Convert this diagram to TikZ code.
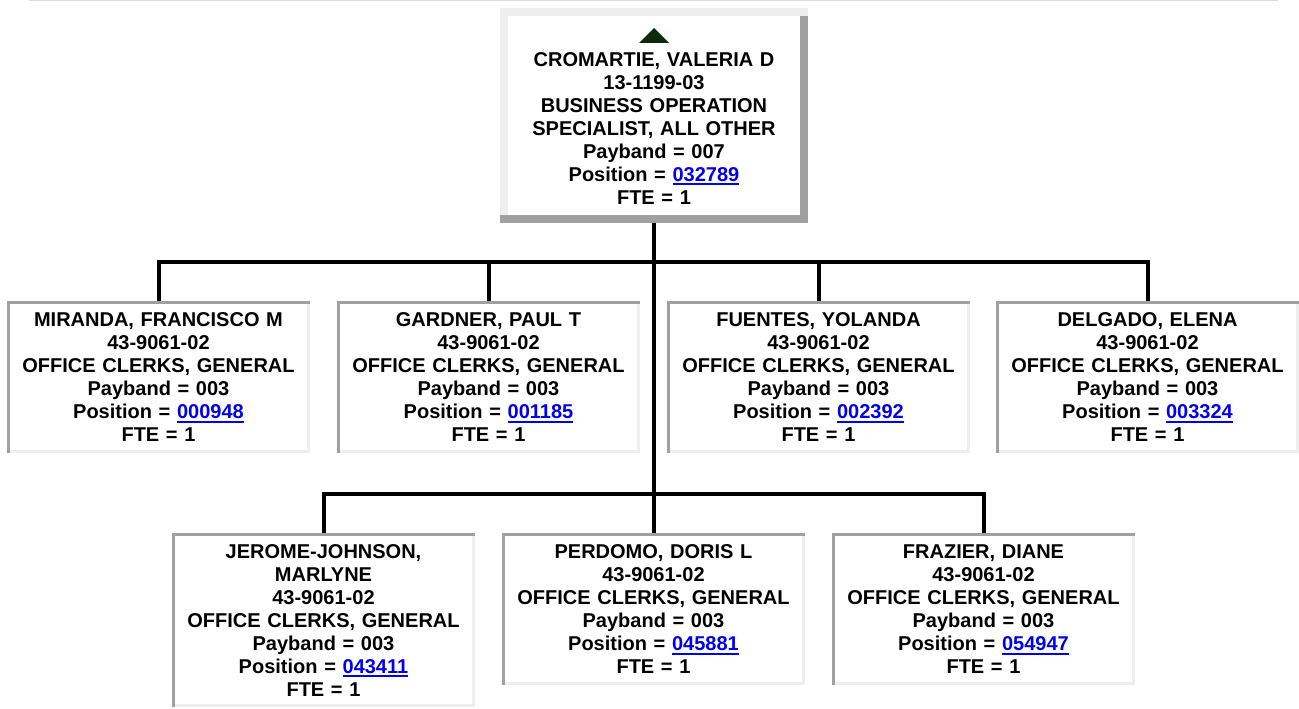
\documentclass[tikz,border=0pt]{standalone}
\usepackage{fontspec}
\setmainfont{Liberation Sans}
\definecolor{orgInk}{HTML}{000000}
\definecolor{orgLink}{HTML}{0000EE}
\definecolor{orgShade}{HTML}{A0A0A0}
\definecolor{orgLight}{HTML}{EEEEEE}
\definecolor{orgRule}{HTML}{DDDDDD}
\definecolor{orgLeaf}{HTML}{0B2B0B}
\newcommand{\poslink}[1]{{\color{orgLink}\setbox0\hbox{#1}\rlap{\rule[-4pt]{\wd0}{2pt}}\box0}}
\tikzset{
  every picture/.style={font=\bfseries\fontsize{20}{23}\selectfont, text=orgInk},
  org card/.style={fill=white, inner sep=0pt, text width=303pt, align=center,
    anchor=north, minimum height=152pt,
    path picture={
      \fill[orgLight] (path picture bounding box.south west) rectangle (path picture bounding box.north east);
      \fill[orgShade] (path picture bounding box.south west) rectangle ([xshift=3pt]path picture bounding box.north west);
      \fill[orgShade] ([yshift=-3pt]path picture bounding box.north west) rectangle (path picture bounding box.north east);
      \fill[white] ([shift={(3pt,3pt)}]path picture bounding box.south west) rectangle ([shift={(-3pt,-3pt)}]path picture bounding box.north east);
    }},
  org top/.style={fill=white, inner sep=0pt, text width=308pt, align=center,
    anchor=north, minimum height=215pt,
    path picture={
      \fill[orgShade] (path picture bounding box.south west) rectangle (path picture bounding box.north east);
      \fill[orgLight] ([yshift=8pt]path picture bounding box.south west) rectangle ([xshift=8pt]path picture bounding box.north west);
      \fill[orgLight] ([yshift=-8pt]path picture bounding box.north west) rectangle (path picture bounding box.north east);
      \fill[white] ([shift={(8pt,8pt)}]path picture bounding box.south west) rectangle ([shift={(-8pt,-8pt)}]path picture bounding box.north east);
    }},
  org wire/.style={draw=orgInk, line width=4pt}
}
\begin{document}
\begin{tikzpicture}[x=1pt,y=-1pt]
  \useasboundingbox (0,0) rectangle (1299,709);
  \draw[orgRule, line width=1pt] (29,0.5) -- (1278,0.5);

  % manager
  \node[org top] (chief) at (654,8) {\strut\\ CROMARTIE, VALERIA D\\ 13-1199-03\\
    BUSINESS OPERATION\\ SPECIALIST, ALL OTHER\\ Payband = 007\\
    Position = \poslink{032789}\\ FTE = 1};
  \fill[orgLeaf] ([shift={(-15pt,-35pt)}]chief.north) -- ([yshift=-20pt]chief.north)
    -- ([shift={(15pt,-35pt)}]chief.north) -- cycle;

  % first row
  \node[org card] (miranda) at (158.5,301) {MIRANDA, FRANCISCO M\\ 43-9061-02\\
    OFFICE CLERKS, GENERAL\\ Payband = 003\\ Position = \poslink{000948}\\ FTE = 1};
  \node[org card] (gardner) at (488.5,301) {GARDNER, PAUL T\\ 43-9061-02\\
    OFFICE CLERKS, GENERAL\\ Payband = 003\\ Position = \poslink{001185}\\ FTE = 1};
  \node[org card] (fuentes) at (818.5,301) {FUENTES, YOLANDA\\ 43-9061-02\\
    OFFICE CLERKS, GENERAL\\ Payband = 003\\ Position = \poslink{002392}\\ FTE = 1};
  \node[org card] (delgado) at (1147.5,301) {DELGADO, ELENA\\ 43-9061-02\\
    OFFICE CLERKS, GENERAL\\ Payband = 003\\ Position = \poslink{003324}\\ FTE = 1};

  % second row
  \node[org card, minimum height=174pt] (jerome) at (323.5,533) {JEROME-JOHNSON,\\ MARLYNE\\
    43-9061-02\\ OFFICE CLERKS, GENERAL\\ Payband = 003\\ Position = \poslink{043411}\\ FTE = 1};
  \node[org card] (perdomo) at (653.5,533) {PERDOMO, DORIS L\\ 43-9061-02\\
    OFFICE CLERKS, GENERAL\\ Payband = 003\\ Position = \poslink{045881}\\ FTE = 1};
  \node[org card] (frazier) at (983.5,533) {FRAZIER, DIANE\\ 43-9061-02\\
    OFFICE CLERKS, GENERAL\\ Payband = 003\\ Position = \poslink{054947}\\ FTE = 1};

  % connectors
  \coordinate (busA) at (653,262);
  \coordinate (busB) at (653,494);
  \draw[org wire] (chief.south) -- (chief.south |- busB);
  \draw[org wire] (miranda.north) -- (miranda.north |- busA) -- (delgado.north |- busA) -- (delgado.north);
  \foreach \kid in {gardner,fuentes}
    \draw[org wire] (\kid.north) -- (\kid.north |- busA);
  \draw[org wire] (jerome.north) -- (jerome.north |- busB) -- (frazier.north |- busB) -- (frazier.north);
  \draw[org wire] (perdomo.north) -- (perdomo.north |- busB);
\end{tikzpicture}
\end{document}
